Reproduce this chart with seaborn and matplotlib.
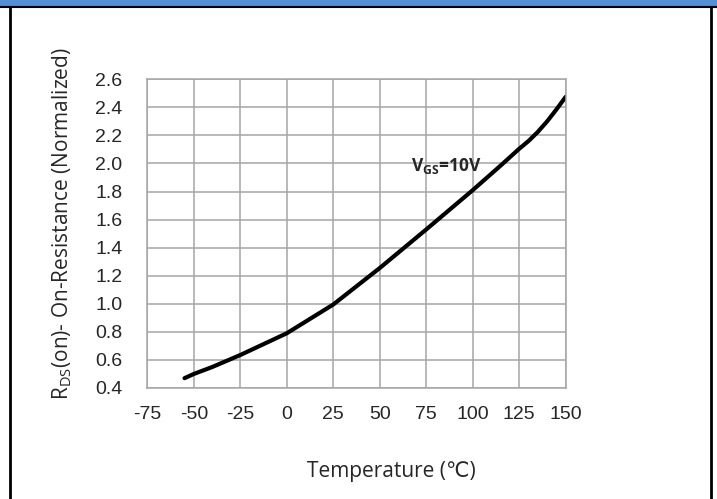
import numpy as np
import pandas as pd
import seaborn as sns
import matplotlib.pyplot as plt
from matplotlib.patches import Rectangle
from matplotlib.lines import Line2D

# values
temp = [-55, -50, -40, -25, 0, 25, 50, 75, 100, 115, 125, 130, 135, 140, 145, 150]
rds = [0.47, 0.50, 0.55, 0.635, 0.79, 0.995, 1.255, 1.53, 1.81, 1.985, 2.105, 2.16, 2.225, 2.30, 2.385, 2.475]
x_ticks = [-75, -50, -25, 0, 25, 50, 75, 100, 125, 150]
y_ticks = [0.4, 0.6, 0.8, 1.0, 1.2, 1.4, 1.6, 1.8, 2.0, 2.2, 2.4, 2.6]

sns.set_style('white')
plt.rcParams['font.family'] = ['Liberation Sans', 'DejaVu Sans']
plt.rcParams['axes.unicode_minus'] = False

df = pd.DataFrame({'temp': temp, 'rds': rds})

fig = plt.figure(figsize=(7.17, 4.99), dpi=100)
ax = fig.add_axes([147.3 / 717, 1 - 388 / 499, 418.4 / 717, 308.7 / 499])

sns.lineplot(data=df, x='temp', y='rds', color='black', linewidth=3, ax=ax)

ax.set_xlim(-75, 150)
ax.set_ylim(0.4, 2.6)
ax.set_xticks(x_ticks)
ax.set_yticks(y_ticks)
ax.set_yticklabels([f'{v:.1f}' for v in y_ticks])
ax.tick_params(axis='both', length=0, labelsize=14)
ax.tick_params(axis='x', pad=13)
ax.tick_params(axis='y', pad=18)
ax.grid(True, color='#a6a6a6', linewidth=1.1)
for s in ax.spines.values():
    s.set_color('#a6a6a6')
    s.set_linewidth(1.1)

lab_font = ['Open Sans', 'DejaVu Sans']
ax.set_xlabel('Temperature (℃)', fontsize=15, family=lab_font)
ax.xaxis.set_label_coords((391 - 147.3) / 418.4, (388 - 471) / 308.7)
ax.xaxis.label.set_verticalalignment('center')
ax.set_ylabel(r'R$\mathregular{_{DS}}$(on)- On-Resistance (Normalized)', fontsize=15, family=lab_font)
ax.yaxis.set_label_coords((62 - 147.3) / 418.4, (388 - 223.5) / 308.7)
ax.yaxis.label.set_verticalalignment('center')

ax.text(67, 1.98, r'V$\mathregular{_{GS}}$=10V', fontsize=12.5, fontweight='bold',
        family=lab_font, ha='left', va='center')

# page frame around the chart
fig.patches.append(Rectangle((0, 1 - 6 / 499), 1, 6 / 499, transform=fig.transFigure,
                             color='#558ed5', zorder=0))
fig.lines.append(Line2D([0, 1], [1 - 7 / 499, 1 - 7 / 499], transform=fig.transFigure,
                        color='black', linewidth=1.5))
fig.lines.append(Line2D([10 / 717, 10 / 717], [0, 1 - 7 / 499], transform=fig.transFigure,
                        color='black', linewidth=2))
fig.lines.append(Line2D([710.5 / 717, 710.5 / 717], [0, 1 - 7 / 499], transform=fig.transFigure,
                        color='black', linewidth=2))

fig.savefig('out.png', dpi=100)
